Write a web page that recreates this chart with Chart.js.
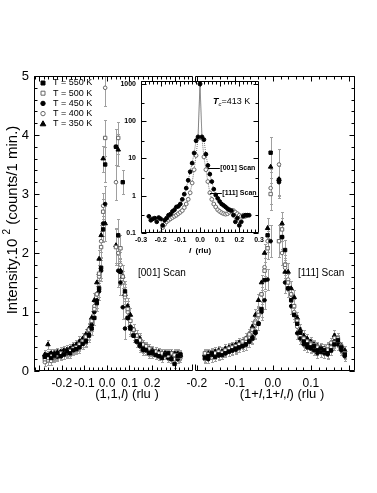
<!DOCTYPE html>
<html lang="en">
<head>
<meta charset="UTF-8">
<title>Diffuse scattering scans</title>
<script src="https://cdn.jsdelivr.net/npm/chart.js"></script>
<style>
  body { margin: 0; background: #fff; }
  #wrap { position: relative; width: 377px; height: 493px; }
  canvas { position: absolute; }
</style>
</head>
<body>
<div id="wrap">
  <canvas id="left" width="200" height="420" style="left:0;top:0"></canvas>
  <canvas id="right" width="197" height="420" style="left:180px;top:0"></canvas>
  <canvas id="inset" width="160" height="200" style="left:110px;top:70px"></canvas>
</div>
<script>
Chart.defaults.font.family = '"Liberation Sans", Arial, Helvetica, sans-serif';
Chart.defaults.color = '#000';

const temps = ['T = 550 K', 'T = 500 K', 'T = 450 K', 'T = 400 K', 'T = 350 K'];

// [001] scan, (1,1,l)
const scan001 = [-0.276,-0.262,-0.248,-0.234,-0.22,-0.206,-0.192,-0.178,-0.164,-0.15,-0.136,-0.122,-0.108,-0.094,-0.08,-0.068,-0.056,-0.045,-0.035,-0.026,-0.017,-0.008,
                 0.04,0.05,0.06,0.07,0.08,0.092,0.104,0.118,0.132,0.146,0.16,0.174,0.188,0.202,0.216,0.23,0.244,0.258,0.272,0.286,0.3,0.314,0.326];
const k550_001 = [0.24,0.27,0.22,0.26,0.3,0.25,0.28,0.33,0.3,0.35,0.37,0.4,0.46,0.5,0.6,0.72,0.9,1.15,1.4,1.75,2.4,3.5,
                  3.8,2.3,1.68,3.2,1.35,0.9,0.72,0.6,0.5,0.45,0.38,0.35,0.3,0.33,0.27,0.25,0.22,0.28,0.3,0.2,0.12,0.25,0.28];
const k500_001 = [0.2,0.22,0.25,0.24,0.27,0.3,0.28,0.32,0.34,0.38,0.4,0.45,0.5,0.58,0.7,0.85,1.05,1.3,1.65,2.1,2.7,3.95,
                  2.1,3.95,2.08,1.6,1.3,1.05,0.85,0.7,0.6,0.52,0.45,0.42,0.38,0.34,0.33,0.3,0.3,0.28,0.26,0.3,0.27,0.24,0.28];
const k450_001 = [0.25,0.27,0.3,0.28,0.24,0.27,0.32,0.3,0.35,0.37,0.42,0.44,0.5,0.52,0.62,0.78,1.0,1.2,1.35,1.7,2.5,2.83,
                  3.8,1.7,1.5,1.08,0.72,0.9,0.75,0.6,0.5,0.42,0.35,0.37,0.33,0.3,0.33,0.32,0.27,0.3,0.22,0.25,0.3,0.2,0.25];
const k400_001 = [0.15,0.18,0.17,0.22,0.26,0.25,0.28,0.3,0.33,0.36,0.38,0.43,0.5,0.56,0.65,0.82,1.1,1.3,1.6,2.2,2.8,4.8,
                  3.2,2.0,1.8,1.5,1.25,1.0,0.75,0.62,0.55,0.48,0.42,0.36,0.33,0.3,0.28,0.25,0.3,0.27,0.22,0.25,0.2,0.26,0.22];
const k350_001 = [0.28,0.45,0.3,0.3,0.32,0.33,0.35,0.36,0.38,0.42,0.45,0.5,0.55,0.62,0.72,0.9,1.2,1.5,1.9,2.3,3.6,2.5,
                  2.13,3.75,1.7,1.6,1.3,1.1,0.95,0.7,0.6,0.55,0.45,0.4,0.38,0.35,0.33,0.32,0.3,0.3,0.28,0.3,0.28,0.3,0.27];
const err001 = [0.07,0.07,0.07,0.07,0.07,0.07,0.07,0.08,0.08,0.08,0.08,0.09,0.09,0.1,0.1,0.11,0.12,0.14,0.15,0.18,0.22,0.3,
                0.3,0.27,0.22,0.2,0.17,0.14,0.12,0.1,0.09,0.09,0.08,0.08,0.08,0.08,0.07,0.07,0.07,0.07,0.07,0.07,0.07,0.07,0.07];

// [111] scan, (1+l,1+l,l)
const scan111 = [-0.179,-0.17,-0.161,-0.152,-0.143,-0.134,-0.125,-0.116,-0.107,-0.098,-0.089,-0.08,-0.071,-0.062,-0.054,-0.046,-0.038,-0.03,-0.022,-0.014,-0.006,
                 0.016,0.024,0.032,0.04,0.048,0.056,0.064,0.072,0.081,0.09,0.099,0.108,0.117,0.126,0.135,0.144,0.153,0.162,0.171,0.18,0.189];
const k550_111 = [0.22,0.25,0.3,0.24,0.28,0.27,0.3,0.33,0.35,0.38,0.4,0.42,0.45,0.5,0.55,0.66,0.8,1.05,1.54,2.3,3.7,
                  3.24,2.27,2.05,1.4,1.2,0.95,0.8,0.65,0.5,0.45,0.4,0.42,0.35,0.38,0.35,0.3,0.35,0.45,0.52,0.4,0.28];
const k500_111 = [0.3,0.28,0.32,0.3,0.33,0.31,0.35,0.38,0.4,0.42,0.45,0.5,0.55,0.62,0.7,0.82,0.95,1.3,1.7,2.08,3.0,
                  2.2,2.4,1.8,1.5,1.3,1.1,0.85,0.65,0.55,0.5,0.45,0.43,0.4,0.38,0.35,0.36,0.4,0.48,0.55,0.42,0.3];
const k450_111 = [0.25,0.2,0.27,0.3,0.26,0.32,0.3,0.33,0.35,0.36,0.4,0.42,0.45,0.5,0.58,0.64,0.81,1.0,1.2,1.55,2.2,
                  3.2,2.27,1.5,1.4,1.1,0.95,0.64,0.55,0.45,0.4,0.38,0.35,0.3,0.32,0.3,0.28,0.35,0.5,0.45,0.35,0.25];
const k400_111 = [0.2,0.25,0.23,0.28,0.27,0.3,0.32,0.34,0.37,0.4,0.43,0.45,0.5,0.58,0.7,0.85,1.0,1.3,1.76,2.2,3.1,
                  3.5,2.0,1.75,1.55,1.3,1.0,0.75,0.6,0.55,0.5,0.47,0.44,0.42,0.4,0.38,0.42,0.48,0.56,0.5,0.38,0.3];
const k350_111 = [0.28,0.3,0.3,0.33,0.35,0.33,0.38,0.4,0.42,0.45,0.48,0.5,0.55,0.62,0.75,0.95,1.2,1.5,2.0,2.42,3.46,
                  3.25,2.5,1.68,1.68,1.4,1.25,0.9,0.7,0.6,0.55,0.5,0.45,0.42,0.4,0.38,0.4,0.45,0.6,0.5,0.42,0.35];
const err111 = [0.07,0.07,0.07,0.07,0.07,0.07,0.07,0.08,0.08,0.08,0.08,0.08,0.09,0.09,0.1,0.1,0.11,0.13,0.15,0.18,0.27,
                0.27,0.2,0.17,0.15,0.13,0.12,0.1,0.09,0.09,0.08,0.08,0.08,0.08,0.08,0.08,0.08,0.08,0.09,0.09,0.08,0.08];

// inset (log scale), both scans
const insetL = [-0.26,-0.25,-0.24,-0.23,-0.22,-0.21,-0.2,-0.19,-0.18,-0.17,-0.16,-0.15,-0.14,-0.13,-0.12,-0.11,-0.1,-0.09,-0.08,-0.07,-0.06,-0.05,-0.04,-0.03,-0.02,-0.01,
                0,0.01,0.02,0.03,0.04,0.05,0.06,0.07,0.08,0.09,0.1,0.11,0.12,0.13,0.14,0.15,0.16,0.17,0.18,0.19,0.2,0.21,0.22,0.23,0.24,0.25];
const inset001 = [0.28,0.22,0.24,0.25,0.2,0.26,0.24,0.16,0.22,0.25,0.3,0.32,0.38,0.42,0.5,0.52,0.6,0.8,1.1,1.6,2.6,4.4,7.5,14,30,38,
                  1000,38,32,13,6.5,3.8,2.4,1.5,1.05,0.85,0.7,0.6,0.55,0.5,0.45,0.42,0.4,0.3,0.2,0.25,0.16,0.2,0.28,0.3,0.3,0.3];
const inset111 = [null,null,null,null,null,null,0.1,0.14,0.17,0.2,0.22,0.24,0.26,0.28,0.3,0.33,0.36,0.4,0.48,0.6,0.8,1.2,2.2,5,12,35,
                  1000,35,11,5,2.4,1.2,0.8,0.6,0.5,0.42,0.38,0.35,0.33,0.32,0.33,0.36,0.38,0.4,0.36,0.33,0.3,0.28,0.3,0.28,0.3,null];

// tick labels
const intensityTicks = [0, 1, 2, 3, 4, 5];
const ticks001 = [-0.2, -0.1, 0, 0.1, 0.2];
const ticks111 = [-0.2, -0.1, 0, 0.1];
const insetLTicks = [-0.3, -0.2, -0.1, 0, 0.1, 0.2, 0.3];
const insetLogTicks = [0.1, 1, 10, 100, 1000];

const FONT = '"Liberation Sans", Arial, Helvetica, sans-serif';

const markers = [
  { pointStyle: 'rect', pointRadius: 2.4, pointBackgroundColor: '#000', pointBorderColor: '#000' },
  { pointStyle: 'rect', pointRadius: 2.4, pointBackgroundColor: '#fff', pointBorderColor: '#666' },
  { pointStyle: 'circle', pointRadius: 1.8, pointBackgroundColor: '#000', pointBorderColor: '#000' },
  { pointStyle: 'circle', pointRadius: 1.8, pointBackgroundColor: '#fff', pointBorderColor: '#666' },
  { pointStyle: 'triangle', pointRadius: 2.6, pointBackgroundColor: '#000', pointBorderColor: '#000' }
];

const pts = (xs, ys) => xs.map((x, i) => ({ x: x, y: ys[i] }));
const range = (a, b, s) => { const r = []; for (let v = a; v <= b + 1e-9; v += s) r.push(+v.toFixed(4)); return r; };

function mainSets(scan, series, err) {
  return series.map((ys, k) => Object.assign({
    label: temps[k], data: pts(scan, ys), err: err, pointBorderWidth: 1, showLine: false
  }, markers[k]));
}

// grey error bars under the points
const errorBars = {
  id: 'errorBars',
  beforeDatasetsDraw(chart) {
    const { ctx, chartArea: a, scales: { x, y } } = chart;
    ctx.save();
    ctx.beginPath(); ctx.rect(a.left, a.top, a.width, a.height); ctx.clip();
    ctx.strokeStyle = '#a0a0a0'; ctx.lineWidth = 1;
    chart.data.datasets.forEach(ds => {
      if (!ds.err) return;
      ds.data.forEach((p, i) => {
        const px = Math.round(x.getPixelForValue(p.x)) + 0.5;
        const y1 = Math.round(y.getPixelForValue(p.y - ds.err[i])) + 0.5;
        const y2 = Math.round(y.getPixelForValue(p.y + ds.err[i])) + 0.5;
        ctx.beginPath();
        ctx.moveTo(px, y1); ctx.lineTo(px, y2);
        ctx.moveTo(px - 1.5, y1); ctx.lineTo(px + 1.5, y1);
        ctx.moveTo(px - 1.5, y2); ctx.lineTo(px + 1.5, y2);
        ctx.stroke();
      });
    });
    ctx.restore();
  }
};

// box lines and inward tick marks
function makeFrame(spec) {
  return {
    id: 'frame',
    afterDatasetsDraw(chart) {
      const { ctx, chartArea: a, scales: { x, y } } = chart;
      const L = Math.round(a.left) + 0.5, R = Math.round(a.right) - 0.5;
      const T = Math.round(a.top) + 0.5, B = Math.round(a.bottom) - 0.5;
      ctx.save();
      ctx.strokeStyle = '#000'; ctx.lineWidth = 1;
      ctx.beginPath();
      const side = { left: [L, T, L, B], right: [R, T, R, B], top: [L, T, R, T], bottom: [L, B, R, B] };
      spec.edges.forEach(e => { const s = side[e]; ctx.moveTo(s[0], s[1]); ctx.lineTo(s[2], s[3]); });
      (spec.stubs || []).forEach(e => {
        const X = e === 'left' ? L : R;
        ctx.moveTo(X, T); ctx.lineTo(X, T + 6);
        ctx.moveTo(X, B); ctx.lineTo(X, B - 6);
      });
      const xMarks = (vals, len) => vals.forEach(v => {
        const px = Math.round(x.getPixelForValue(v)) + 0.5;
        if (px < a.left || px > a.right) return;
        spec.x.sides.forEach(s => {
          if (s === 'bottom') { ctx.moveTo(px, B); ctx.lineTo(px, B - len); }
          else { ctx.moveTo(px, T); ctx.lineTo(px, T + len); }
        });
      });
      const yMarks = (vals, len) => vals.forEach(v => {
        const py = Math.round(y.getPixelForValue(v)) + 0.5;
        if (py < a.top - 1 || py > a.bottom + 1) return;
        spec.y.sides.forEach(s => {
          if (s === 'left') { ctx.moveTo(L, py); ctx.lineTo(L + len, py); }
          else { ctx.moveTo(R, py); ctx.lineTo(R - len, py); }
        });
      });
      xMarks(spec.x.major, 5); xMarks(spec.x.minor, 3);
      yMarks(spec.y.major, 5); yMarks(spec.y.minor, 3);
      ctx.stroke();
      ctx.restore();
    }
  };
}

// mixed-style text: parts = [text, font, dy]
function rich(ctx, parts, x, y, align) {
  let w = 0;
  parts.forEach(p => { ctx.font = p[1]; w += ctx.measureText(p[0]).width; });
  let cx = align === 'center' ? x - w / 2 : x;
  parts.forEach(p => {
    ctx.font = p[1];
    ctx.fillText(p[0], cx, y + (p[2] || 0));
    cx += ctx.measureText(p[0]).width;
  });
}

function legendMark(ctx, m, x, y) {
  ctx.fillStyle = m.pointBackgroundColor; ctx.strokeStyle = m.pointBorderColor; ctx.lineWidth = 1;
  ctx.beginPath();
  if (m.pointStyle === 'rect') ctx.rect(x - 2, y - 2, 4, 4);
  else if (m.pointStyle === 'circle') ctx.arc(x, y, 2.2, 0, Math.PI * 2);
  else { ctx.moveTo(x, y - 3); ctx.lineTo(x + 2.8, y + 2); ctx.lineTo(x - 2.8, y + 2); ctx.closePath(); }
  ctx.fill(); ctx.stroke();
}

const axisOpts = (min, max, ticks, fit, tickOpts) => ({
  type: 'linear', min: min, max: max,
  grid: { display: false, drawTicks: false }, border: { display: false },
  afterBuildTicks: ax => { ax.ticks = ticks.map(v => ({ value: v })); },
  afterFit: fit,
  ticks: Object.assign({ autoSkip: false, maxRotation: 0 }, tickOpts)
});

const mainY = (show) => Object.assign(axisOpts(0, 5, intensityTicks, ax => { ax.width = show ? 34 : 0; },
  { padding: 5, font: { size: 13 } }), { display: show });

const baseOpts = (padding) => ({
  responsive: false, animation: false,
  layout: { padding: padding, autoPadding: false },
  plugins: { legend: { display: false }, tooltip: { enabled: false } }
});

const yMajor = intensityTicks, yMinor = range(0, 5, 0.2);

// left panel: [001]
const leftText = {
  id: 'leftText',
  afterDraw(chart) {
    const ctx = chart.ctx;
    ctx.save();
    ctx.fillStyle = '#000';
    ctx.textBaseline = 'middle';
    ctx.translate(13, 220); ctx.rotate(-Math.PI / 2);
    rich(ctx, [['Intensity.10 ', '15px ' + FONT], ['2', '10px ' + FONT, -6], [' (counts/1 min.)', '15px ' + FONT]], 0, 0, 'center');
    ctx.setTransform(1, 0, 0, 1, 0, 0);
    rich(ctx, [['(1,1,', '13px ' + FONT], ['l', 'italic 13px ' + FONT], [') (rlu )', '13px ' + FONT]], 127, 394, 'center');
    ctx.font = '10px ' + FONT;
    ctx.fillText('[001] Scan', 138, 273);
    ctx.font = '9px ' + FONT;
    temps.forEach((t, k) => {
      const yy = 83 + k * 10.2;
      legendMark(ctx, markers[k], 43, yy);
      ctx.fillStyle = '#000';
      ctx.fillText(t, 53, yy);
    });
    ctx.restore();
  }
};

new Chart(document.getElementById('left'), {
  type: 'scatter',
  data: { datasets: mainSets(scan001, [k550_001, k500_001, k450_001, k400_001, k350_001], err001) },
  options: Object.assign(baseOpts({ top: 76, left: 0, right: 7, bottom: 0 }), {
    scales: {
      x: axisOpts(-0.324, 0.382, ticks001, ax => { ax.height = 49; },
        { padding: 5, font: { size: 12 }, callback: v => v.toFixed(1) }),
      y: mainY(true)
    }
  }),
  plugins: [errorBars, makeFrame({
    edges: ['left', 'top', 'bottom'], stubs: ['right'],
    x: { sides: ['bottom', 'top'], major: range(-0.3, 0.3, 0.1), minor: range(-0.32, 0.38, 0.02) },
    y: { sides: ['left'], major: yMajor, minor: yMinor }
  }), leftText]
});

// right panel: [111]
const rightText = {
  id: 'rightText',
  afterDraw(chart) {
    const ctx = chart.ctx;
    ctx.save();
    ctx.fillStyle = '#000';
    ctx.textBaseline = 'middle';
    rich(ctx, [['(1+', '13px ' + FONT], ['l', 'italic 13px ' + FONT], [',1+', '13px ' + FONT], ['l', 'italic 13px ' + FONT],
      [',', '13px ' + FONT], ['l', 'italic 13px ' + FONT], [') (rlu )', '13px ' + FONT]], 102, 394, 'center');
    ctx.font = '10px ' + FONT;
    ctx.fillText('[111] Scan', 118, 273);
    ctx.restore();
  }
};

new Chart(document.getElementById('right'), {
  type: 'scatter',
  data: { datasets: mainSets(scan111, [k550_111, k500_111, k450_111, k400_111, k350_111], err111) },
  options: Object.assign(baseOpts({ top: 76, left: 15, right: 22, bottom: 0 }), {
    scales: {
      x: axisOpts(-0.205, 0.216, ticks111, ax => { ax.height = 49; },
        { padding: 5, font: { size: 12 }, callback: v => v.toFixed(1) }),
      y: mainY(false)
    }
  }),
  plugins: [errorBars, makeFrame({
    edges: ['right', 'top', 'bottom'], stubs: ['left'],
    x: { sides: ['bottom', 'top'], major: range(-0.2, 0.2, 0.1), minor: range(-0.2, 0.22, 0.02) },
    y: { sides: ['right'], major: yMajor, minor: yMinor }
  }), rightText]
});

// inset: log intensity vs l
const insetText = {
  id: 'insetText',
  afterDraw(chart) {
    const { ctx, scales: { x, y } } = chart;
    ctx.save();
    ctx.fillStyle = '#000'; ctx.strokeStyle = '#000'; ctx.lineWidth = 1;
    ctx.textBaseline = 'alphabetic';
    rich(ctx, [['T', 'italic bold 9px ' + FONT], ['c', 'italic 6px ' + FONT, 2], ['=413 K', '9px ' + FONT]], 103, 34, 'left');
    ctx.textBaseline = 'middle';
    rich(ctx, [['l', 'italic bold 8px ' + FONT], ['  (rlu)', 'bold 8px ' + FONT]], 90, 181, 'center');
    [['[001] Scan', 0.04, 5.6], ['[111] Scan', 0.05, 1.2]].forEach(a => {
      const px = x.getPixelForValue(a[1]), py = Math.round(y.getPixelForValue(a[2])) + 0.5;
      ctx.beginPath(); ctx.moveTo(px, py); ctx.lineTo(px + 12, py); ctx.stroke();
      ctx.font = 'bold 7px ' + FONT;
      ctx.fillText(a[0], px + 12.5, py);
    });
    ctx.restore();
  }
};

const insetSet = (ys, k) => Object.assign({
  data: pts(insetL, ys), showLine: true, spanGaps: false,
  borderColor: '#777', borderWidth: 1, borderDash: [1, 1], pointBorderWidth: 1
}, markers[k], { pointRadius: 1.9 });

new Chart(document.getElementById('inset'), {
  type: 'scatter',
  data: { datasets: [insetSet(inset001, 2), insetSet(inset111, 3)] },
  options: Object.assign(baseOpts({ top: 11, left: 0, right: 11, bottom: 0 }), {
    scales: {
      x: axisOpts(-0.3, 0.3, insetLTicks, ax => { ax.height = 37; },
        { padding: 3, font: { size: 7, weight: 'bold' }, callback: v => v.toFixed(1) }),
      y: Object.assign(axisOpts(0.1, 1200, insetLogTicks, ax => { ax.width = 31; },
        { padding: 5, font: { size: 7, weight: 'bold' }, callback: v => (v < 1 ? '0.1' : String(v)) }),
        { type: 'logarithmic' })
    }
  }),
  plugins: [makeFrame({
    edges: ['left', 'right', 'top', 'bottom'],
    x: { sides: ['bottom', 'top'], major: insetLTicks, minor: range(-0.3, 0.3, 0.02) },
    y: { sides: ['left', 'right'], major: insetLogTicks, minor: [0.3, 3, 30, 300] }
  }), insetText]
});
</script>
</body>
</html>
